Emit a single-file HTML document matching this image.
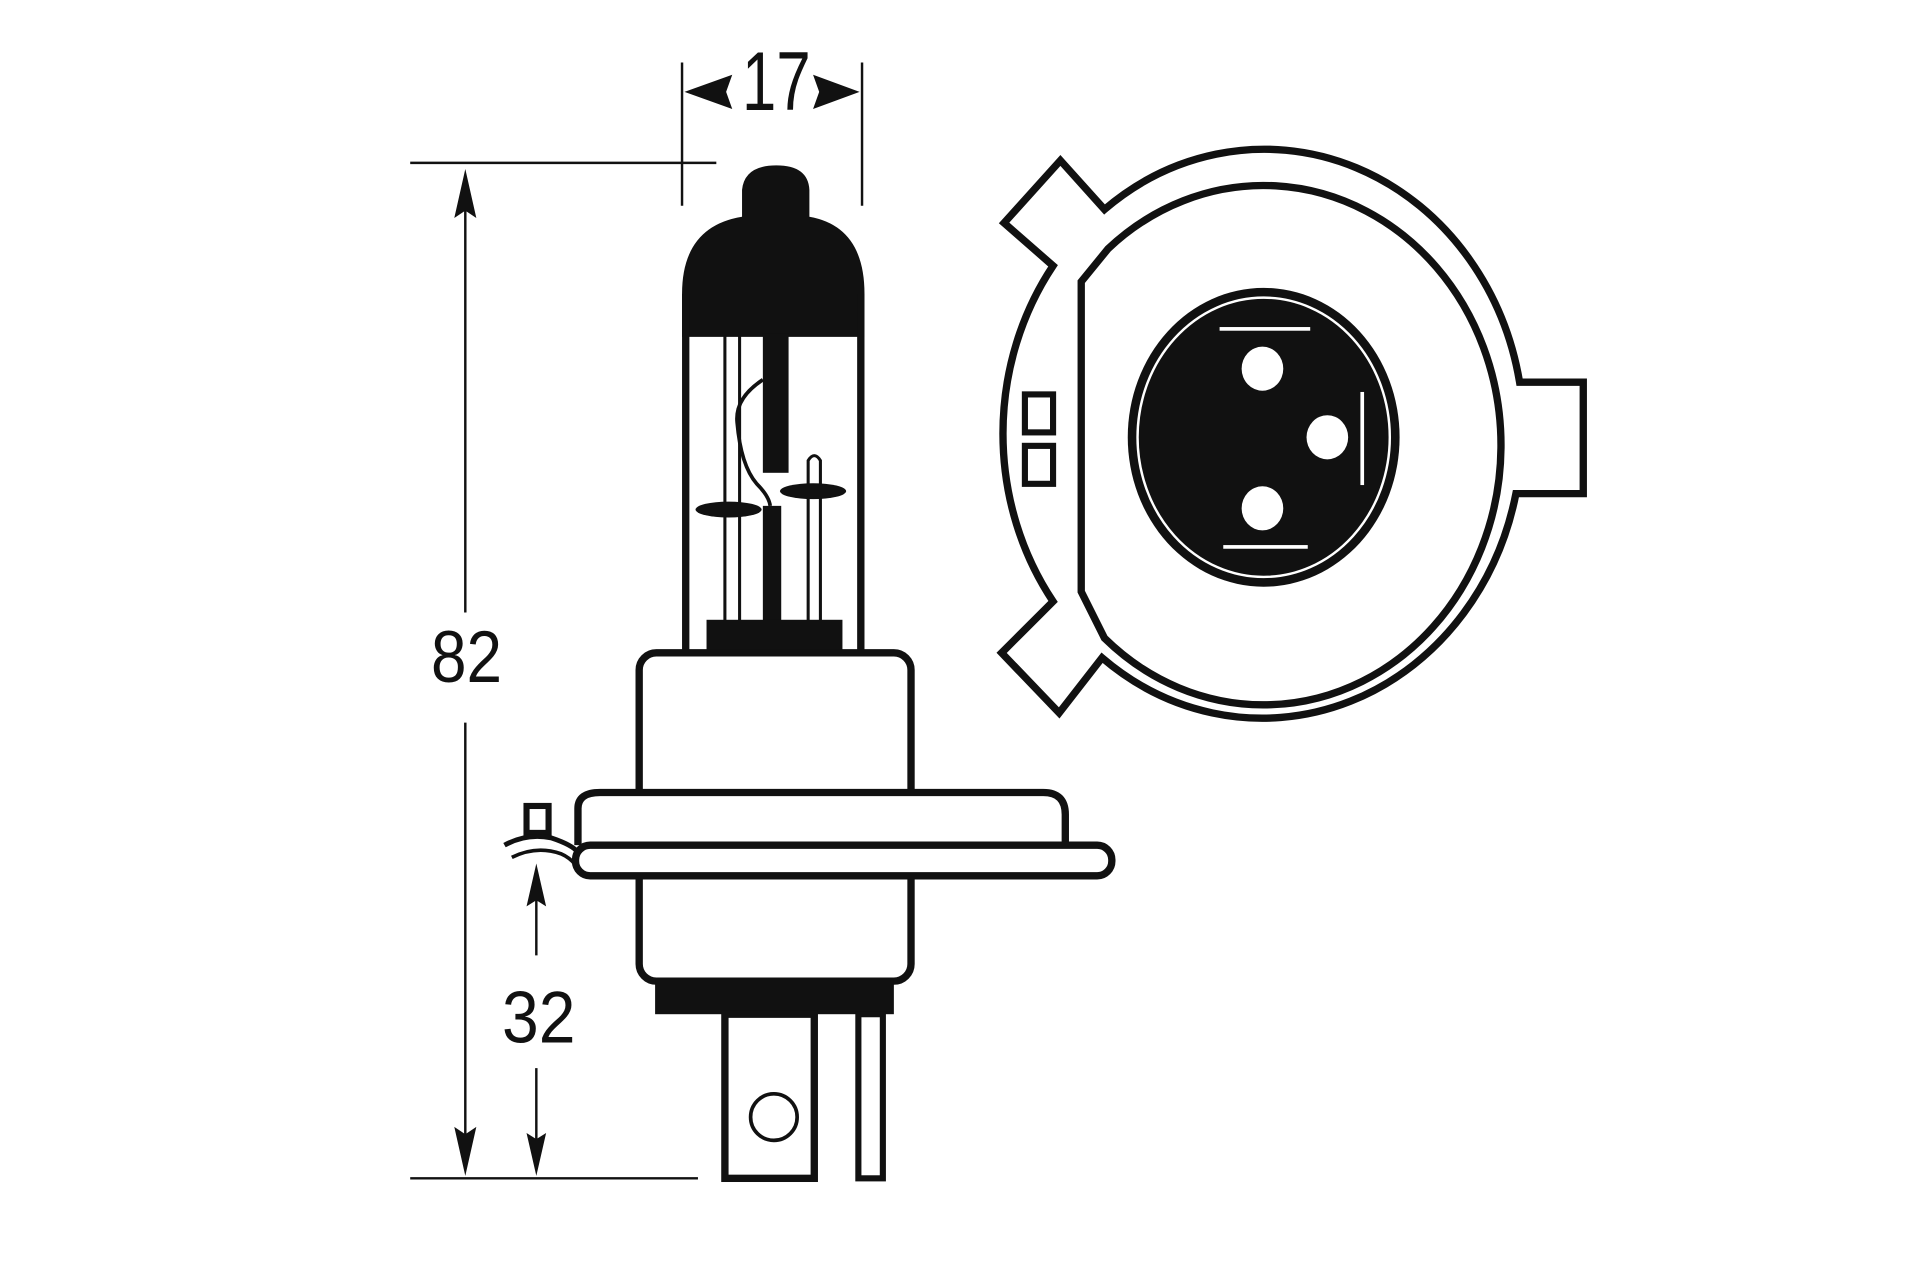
<!DOCTYPE html>
<html><head><style>html,body{margin:0;padding:0;background:#fff}svg{display:block}</style></head>
<body>
<svg width="1920" height="1280" viewBox="0 0 1568 1045" preserveAspectRatio="none" xmlns="http://www.w3.org/2000/svg">
<rect width="1568" height="1045" fill="#fff"/>
<g stroke="#111" fill="none" stroke-width="2">
<line x1="557" y1="51" x2="557" y2="168"/>
<line x1="704" y1="51" x2="704" y2="168"/>
<line x1="335" y1="133" x2="585" y2="133"/>
<line x1="335" y1="962" x2="570" y2="962"/>
<line x1="380" y1="150" x2="380" y2="500"/>
<line x1="380" y1="590" x2="380" y2="950"/>
<line x1="438" y1="715" x2="438" y2="780"/>
<line x1="438" y1="872" x2="438" y2="950"/>
</g>
<g fill="#111">
<polygon points="559,75 598,61 593,75 598,89"/>
<polygon points="702,75 664,61 669,75 664,89"/>
<polygon points="380,138 371,178 380,172 389,178"/>
<polygon points="380,960 371,920 380,926 389,920"/>
<polygon points="438,705 430,740 438,735 446,740"/>
<polygon points="438,960 430,925 438,930 446,925"/>
</g>
<g font-family="Liberation Sans, sans-serif" fill="#111" text-anchor="middle">
<text x="634" y="90" font-size="68" textLength="56" lengthAdjust="spacingAndGlyphs">17</text>
<text x="381" y="557" font-size="60" textLength="58" lengthAdjust="spacingAndGlyphs">82</text>
<text x="440" y="851" font-size="60" textLength="60" lengthAdjust="spacingAndGlyphs">32</text>
</g>
<!-- bulb cap -->
<path d="M557 275 L557 240 Q557 185 606 177 L606 155 Q608 135 634 135 Q660 135 661 155 L661 177 Q706 185 706 240 L706 275 Z" fill="#111"/>
<!-- glass -->
<line x1="560" y1="240" x2="560" y2="533" stroke="#111" stroke-width="6"/>
<line x1="703" y1="240" x2="703" y2="533" stroke="#111" stroke-width="6"/>
<g stroke="#111" stroke-width="2.5" fill="none">
<line x1="592" y1="274" x2="592" y2="510"/>
<line x1="604" y1="274" x2="604" y2="510"/>
<path d="M660 510 L660 376 Q665 368 670 376 L670 510"/>
<path d="M623 310 Q600 325 602 345 Q605 380 618 395 Q628 405 629 413" stroke-width="3"/>
</g>
<rect x="623" y="272" width="21" height="114" fill="#111"/>
<rect x="623" y="413" width="15" height="97" fill="#111"/>
<ellipse cx="595" cy="416" rx="27" ry="6.5" fill="#111"/>
<ellipse cx="664" cy="401" rx="27" ry="6.5" fill="#111"/>
<rect x="577" y="506" width="111" height="27" fill="#111"/>
<!-- base -->
<rect x="522" y="533" width="222" height="268" rx="14" fill="#fff" stroke="#111" stroke-width="6"/>
<path d="M472 690 L472 660 Q472 647 490 647 L852 647 Q870 647 870 665 L870 690" fill="#fff" stroke="#111" stroke-width="6"/>
<rect x="470" y="690" width="438" height="25" rx="12" fill="#fff" stroke="#111" stroke-width="6"/>
<rect x="430" y="658" width="18" height="22" fill="#fff" stroke="#111" stroke-width="5"/>
<path d="M412 690 Q430 680 450 684 Q468 690 472 696" fill="none" stroke="#111" stroke-width="4"/>
<path d="M418 700 Q438 690 458 697 Q465 700 470 706" fill="none" stroke="#111" stroke-width="3"/>
<rect x="535" y="800" width="195" height="28" fill="#111"/>
<rect x="592" y="828" width="73" height="134" fill="#fff" stroke="#111" stroke-width="6"/>
<circle cx="632" cy="912" r="19" fill="none" stroke="#111" stroke-width="3"/>
<rect x="701" y="828" width="20" height="134" fill="#fff" stroke="#111" stroke-width="5"/>
<!-- right view outer contour -->
<path d="M902 171 A212 232 0 0 1 1241 312 L1293 312 L1293 403 L1238 403 A212 232 0 0 1 900 537 L865 582 L818 533 L860 491 A212 232 0 0 1 860 217 L820 182 L866 131 Z" fill="#fff" stroke="#111" stroke-width="6" stroke-linejoin="miter"/>
<path d="M883 230 L905 203 A194 212 0 1 1 902 521 L883 483 Z" fill="#fff" stroke="#111" stroke-width="6"/>
<ellipse cx="1032" cy="357" rx="111" ry="122" fill="#111"/>
<ellipse cx="1032" cy="357" rx="103" ry="114" fill="none" stroke="#fff" stroke-width="2"/>
<g fill="#fff">
<ellipse cx="1031" cy="301" rx="17" ry="18"/>
<ellipse cx="1084" cy="357" rx="17" ry="18"/>
<ellipse cx="1031" cy="415" rx="17" ry="18"/>
<rect x="996" y="267" width="74" height="3"/>
<rect x="999" y="445" width="69" height="3"/>
<rect x="1111" y="320" width="3" height="76"/>
</g>
<g fill="#fff" stroke="#111" stroke-width="5">
<rect x="837" y="322" width="23" height="31"/>
<rect x="837" y="364" width="23" height="31"/>
</g>
</svg>
</body></html>
